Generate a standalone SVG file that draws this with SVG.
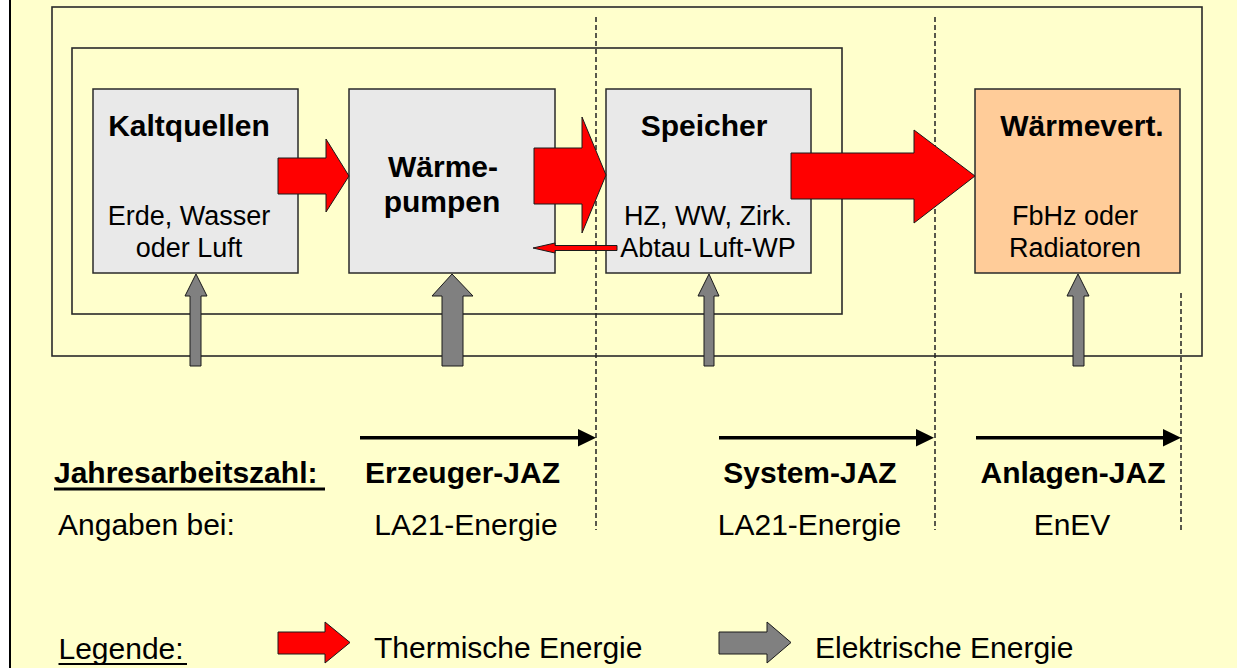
<svg xmlns="http://www.w3.org/2000/svg" width="1237" height="668" viewBox="0 0 1237 668">
<defs>
<style>
.frame{fill:none;stroke:#2a2a2a;stroke-width:1.6}
.box{stroke:#2a2a2a;stroke-width:1.5}
.grey{fill:#E9E9E9}
.orange{fill:#FFCC99}
.t{font-family:"Liberation Sans",Arial,sans-serif;fill:#000}
.b{font-weight:bold;font-size:30px}
.s{font-size:27px}
.l{font-size:30px}
.mid{text-anchor:middle}
.red{fill:#FF0000;stroke:#1a1a1a;stroke-width:1}
.el{fill:#808080;stroke:#1a1a1a;stroke-width:1}
.dash{stroke:#222;stroke-width:1.5;stroke-dasharray:5 3;fill:none}
.blk{stroke:#000;stroke-width:3.5;fill:none}
</style>
</defs>
<rect x="0" y="0" width="1237" height="668" fill="#FFFFFF"/>
<rect x="10" y="-10" width="1240" height="690" fill="#FFFFCC" stroke="#000" stroke-width="2"/>

<g id="frames">
<rect class="frame" x="52" y="7" width="1150" height="349"/>
<rect class="frame" x="72" y="48" width="770" height="266"/>
</g>

<g id="dividers">
<line class="dash" x1="596" y1="17" x2="596" y2="530"/>
<line class="dash" x1="935" y1="17" x2="935" y2="530"/>
<line class="dash" x1="1181" y1="293" x2="1181" y2="530"/>
</g>

<g id="node-kaltquellen">
<rect class="box grey" x="93" y="89" width="205" height="184"/>
<text class="t b mid" x="189" y="136">Kaltquellen</text>
<text class="t s mid" x="189" y="225">Erde, Wasser</text>
<text class="t s mid" x="189" y="257">oder Luft</text>
</g>

<g id="node-waermepumpen">
<rect class="box grey" x="349" y="89" width="206" height="184"/>
<text class="t b mid" x="443" y="177">Wärme-</text>
<text class="t b mid" x="442" y="212">pumpen</text>
</g>

<g id="node-speicher">
<rect class="box grey" x="606" y="89" width="205" height="184"/>
<text class="t b mid" x="704" y="136">Speicher</text>
<text class="t s mid" x="708" y="225">HZ, WW, Zirk.</text>
<text class="t s mid" x="708" y="257">Abtau Luft-WP</text>
</g>

<g id="node-waermevert">
<rect class="box orange" x="975" y="89" width="205" height="184"/>
<text class="t b mid" x="1082" y="136">Wärmevert.</text>
<text class="t s mid" x="1075" y="225">FbHz oder</text>
<text class="t s mid" x="1075" y="257">Radiatoren</text>
</g>

<g id="connectors">
<polygon class="red" points="278,158 326,158 326,139 349,176 326,212 326,194 278,194"/>
<polygon class="red" points="534,148 582,148 582,117 606,175 582,233 582,204 534,204"/>
<polygon class="red" points="791,153 914,153 914,130 975,176 914,223 914,199 791,199"/>
<polygon class="red" points="617,245.5 555,245.5 555,243 533,248 555,253 555,250.5 617,250.5"/>
<polygon class="el" points="190,366 190,296 185,296 196,274 207,296 201,296 201,366"/>
<polygon class="el" points="442,366 442,296 432,296 452,274 473,296 463,296 463,366"/>
<polygon class="el" points="704,366 704,296 698,296 709,274 719,296 714,296 714,366"/>
<polygon class="el" points="1073,366 1073,296 1067,296 1078,274 1089,296 1084,296 1084,366"/>
<line class="blk" x1="360" y1="437.7" x2="580" y2="437.7"/>
<polygon fill="#000" points="578,429 596,437.7 578,446.5"/>
<line class="blk" x1="719" y1="437.7" x2="918" y2="437.7"/>
<polygon fill="#000" points="916,429 934,437.7 916,446.5"/>
<line class="blk" x1="976" y1="437.7" x2="1165" y2="437.7"/>
<polygon fill="#000" points="1163,429 1181,437.7 1163,446.5"/>
</g>

<g id="jaz-labels">
<text class="t b" x="54" y="483">Jahresarbeitszahl:</text>
<line x1="54" y1="489" x2="325" y2="489" stroke="#000" stroke-width="3"/>
<text class="t b mid" x="462.5" y="483">Erzeuger-JAZ</text>
<text class="t b mid" x="810" y="483">System-JAZ</text>
<text class="t b mid" x="1073" y="483">Anlagen-JAZ</text>
<text class="t l" x="58" y="535">Angaben bei:</text>
<text class="t l mid" x="466" y="535">LA21-Energie</text>
<text class="t l mid" x="809.5" y="535">LA21-Energie</text>
<text class="t l mid" x="1072" y="535">EnEV</text>
</g>

<g id="legend">
<text class="t l" x="58.5" y="659">Legende:</text>
<line x1="58.5" y1="664" x2="187" y2="664" stroke="#000" stroke-width="2"/>
<polygon class="red" points="278,632 325,632 325,622 350,642.5 325,663 325,654 278,654"/>
<text class="t l" x="374" y="658">Thermische Energie</text>
<polygon class="el" points="719,632 767,632 767,622 791,642.5 767,663 767,654 719,654"/>
<text class="t l" x="815" y="658">Elektrische Energie</text>
</g>
</svg>
